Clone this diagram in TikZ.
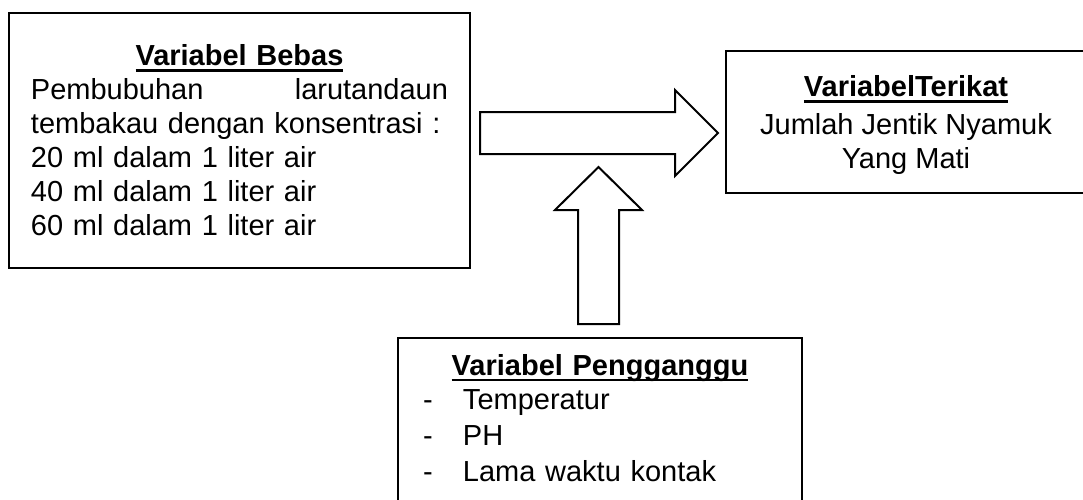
\documentclass[tikz,border=0pt]{standalone}
\usepackage{fontspec}
\setmainfont{Liberation Sans}
\setlength{\parindent}{0pt}
\newsavebox{\judulbox}
\newcommand{\judul}[1]{\sbox{\judulbox}{\textbf{#1}}\rlap{\usebox{\judulbox}}\rule[-3.2pt]{\wd\judulbox}{1.4pt}}
\usepackage{tikz}

\begin{document}
\begin{tikzpicture}[x=0.5pt,y=-0.5pt,
		kotak/.style={draw,line width=1pt,rectangle,inner ysep=0pt,font=\fontsize{14.5}{17}\selectfont},
		panah/.style={draw,line width=1pt,fill=white,line join=miter}]
			\path[use as bounding box,clip] (0,0) rectangle (1083,499);
			\node[kotak,minimum width=230.5pt,minimum height=127.5pt,text width=208.5pt,inner xsep=11pt,align=left] (bebas) at (239.5,140.5) {{\centering\judul{Variabel Bebas}\par}
				Pembubuhan\hfill larutandaun\\
				tembakau dengan konsentrasi :\\
				20 ml dalam 1 liter air\\
				40 ml dalam 1 liter air\\
				60 ml dalam 1 liter air};
			\node[kotak,minimum width=180pt,minimum height=71pt,align=center] (terikat) at (906,122) {\rule{0pt}{13.6pt}\judul{VariabelTerikat}\\[2pt]
				Jumlah Jentik Nyamuk\\
				Yang Mati};
			\node[kotak,anchor=north,text width=177pt,inner xsep=12.5pt,inner ysep=8pt,align=left] (pengganggu) at (600,337) {{\centering\judul{Variabel Pengganggu}\par}
				\makebox[20pt][l]{-}Temperatur\\[1pt]
				\makebox[20pt][l]{-}PH\\[1pt]
				\makebox[20pt][l]{-}Lama waktu kontak\rule[-30pt]{0pt}{1pt}};
			\draw[panah] (480,112) -- (675,112) -- (675,90) -- (718,133) -- (675,176) -- (675,154) -- (480,154) -- cycle;
			\draw[panah] (578,324) -- (578,210) -- (555,210) -- (598.5,167) -- (642,210) -- (619,210) -- (619,324) -- cycle;
		\end{tikzpicture}
\end{document}
